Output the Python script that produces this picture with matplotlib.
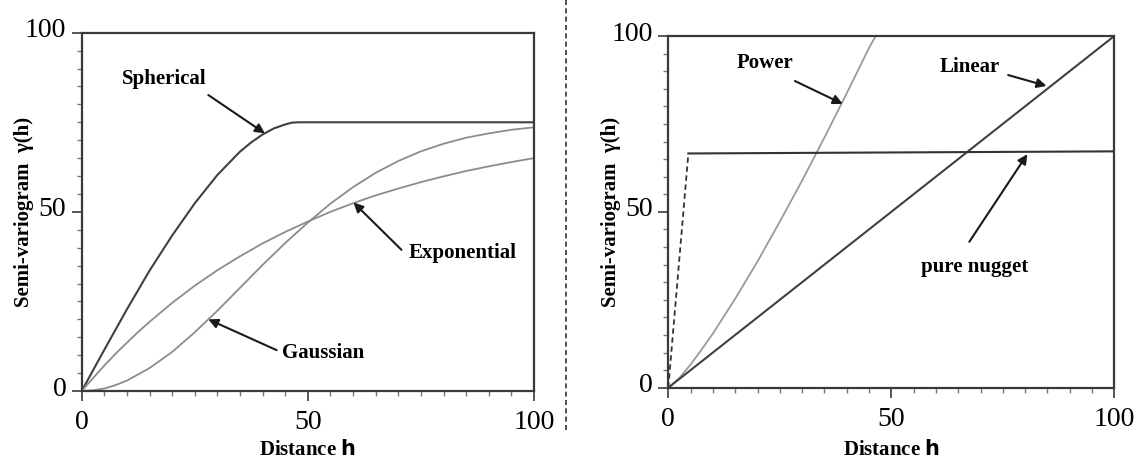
import matplotlib
matplotlib.use("Agg")
import matplotlib.pyplot as plt
import matplotlib.transforms as mtransforms
from matplotlib.lines import Line2D
from matplotlib.ticker import MultipleLocator

plt.rcParams['font.family'] = ['Liberation Serif', 'DejaVu Serif']
plt.rcParams['mathtext.fontset'] = 'dejavusans'

# --- left panel: bounded models
h_sph = [0, 5, 10, 15, 20, 25, 30, 35, 37.5, 40, 42.5, 45, 46.5, 48, 100]
g_sph = [0, 11.5, 22.8, 33.6, 43.4, 52.4, 60.3, 66.8, 69.4, 71.6, 73.3, 74.4, 74.9, 75, 75]

h_exp = [0, 2.5, 5, 7.5, 10, 12.5, 15, 20, 25, 30, 35, 40, 45, 50, 55, 60, 65, 70, 75, 80,
         85, 90, 95, 100]
g_exp = [0, 3.6, 7.1, 10.4, 13.5, 16.5, 19.3, 24.6, 29.4, 33.7, 37.6, 41.2, 44.4, 47.3,
         50.0, 52.4, 54.6, 56.5, 58.3, 59.9, 61.4, 62.7, 63.9, 65.0]

h_gau = [0, 2.5, 5, 7.5, 10, 15, 20, 25, 30, 35, 40, 45, 50, 55, 60, 65, 70, 75, 80, 85,
         90, 95, 100]
g_gau = [0, 0.2, 0.7, 1.65, 2.9, 6.4, 10.9, 16.4, 22.4, 28.8, 35.2, 41.3, 47.0, 52.3, 56.9,
         60.9, 64.2, 66.9, 69.0, 70.7, 71.9, 72.9, 73.6]

# --- right panel: unbounded models + nugget
h_pow = [0, 2.5, 5, 7.5, 10, 15, 20, 25, 30, 35, 40, 45, 46.5]
g_pow = [0, 2.8, 6.6, 10.9, 15.4, 25.3, 35.9, 47.2, 58.9, 71.1, 83.7, 96.6, 100]

h_lin = [0, 100]
g_lin = [0, 100]

h_nug_jump = [0, 4.5]
g_nug_jump = [0, 66.6]
h_nug = [4.5, 100]
g_nug = [66.6, 67.2]

tick_major = [0, 50, 100]

W, H = 1141, 461
fig = plt.figure(figsize=(W / 100, H / 100), dpi=100)
ax1 = fig.add_axes([81.7 / W, (H - 391) / H, 452.3 / W, 358.3 / H])
ax2 = fig.add_axes([668.3 / W, (H - 387.7) / H, 446 / W, 351.7 / H])

spine_col = '#3a3a3a'
for ax, ylab_x, xlab_y in ((ax1, -0.128, -0.165), (ax2, -0.128, -0.177)):
    ax.set_xlim(0, 100)
    ax.set_ylim(0, 100)
    ax.set_xticks(tick_major)
    ax.set_yticks(tick_major)
    ax.xaxis.set_minor_locator(MultipleLocator(5))
    ax.yaxis.set_minor_locator(MultipleLocator(5))
    ax.tick_params(which='major', direction='out', length=7, width=1.2,
                   color=spine_col, labelsize=20, pad=4)
    ax.tick_params(which='minor', direction='out', length=3.5, width=1.0,
                   color='#777777')
    ax.tick_params(axis='x', which='major', pad=7)
    for s in ax.spines.values():
        s.set_color(spine_col)
        s.set_linewidth(1.6)
    off = mtransforms.ScaledTranslation(0, 5 / 100, fig.dpi_scale_trans)
    for lab in ax.get_yticklabels():
        lab.set_transform(lab.get_transform() + off)
    ax.set_xlabel(r'Distance $\mathbf{h}$', fontsize=15, fontweight='bold', va='center')
    ax.set_ylabel('Semi-variogram  γ(h)', fontsize=15, fontweight='bold', va='center')
    ax.xaxis.set_label_coords(0.5, xlab_y)
    ax.yaxis.set_label_coords(ylab_x, 0.5)

# left panel curves
ax1.plot(h_sph, g_sph, color='#404040', lw=1.5)
ax1.plot(h_exp, g_exp, color='#8c8c8c', lw=1.3)
ax1.plot(h_gau, g_gau, color='#8c8c8c', lw=1.3)

arrow = dict(arrowstyle='-|>', color='#1a1a1a', lw=1.5, mutation_scale=14,
             shrinkA=0, shrinkB=0)
txt = dict(fontsize=15, fontweight='bold', ha='center', va='center')
ax1.annotate('', xy=(40.5, 71.9), xytext=(28.0, 82.6), arrowprops=arrow)
ax1.text(18.2, 87.0, 'Spherical', **txt)
ax1.annotate('', xy=(60.1, 52.6), xytext=(70.7, 39.4), arrowprops=arrow)
ax1.text(84.2, 38.4, 'Exponential', **txt)
ax1.annotate('', xy=(28.0, 20.0), xytext=(43.1, 11.4), arrowprops=arrow)
ax1.text(53.4, 10.7, 'Gaussian', **txt)

# right panel curves
ax2.plot(h_pow, g_pow, color='#9a9a9a', lw=1.3)
ax2.plot(h_lin, g_lin, color='#404040', lw=1.5)
ax2.plot(h_nug_jump, g_nug_jump, color='#333333', lw=1.3, ls=(0, (3, 2)))
ax2.plot(h_nug, g_nug, color='#333333', lw=1.5)

ax2.annotate('', xy=(39.1, 80.7), xytext=(28.4, 87.2), arrowprops=arrow)
ax2.text(21.6, 92.2, 'Power', **txt)
ax2.annotate('', xy=(84.8, 85.8), xytext=(76.2, 88.9), arrowprops=arrow)
ax2.text(67.5, 91.3, 'Linear', **txt)
ax2.annotate('', xy=(80.5, 66.4), xytext=(67.5, 41.5), arrowprops=arrow)
ax2.text(68.7, 34.4, 'pure nugget', **txt)

# dashed separator between the panels
fig.add_artist(Line2D([566 / W, 566 / W], [(H - 430) / H, 1.0], transform=fig.transFigure,
                      color='#333333', lw=1.2, ls=(0, (3, 2))))

fig.savefig('out.png', dpi=100)
